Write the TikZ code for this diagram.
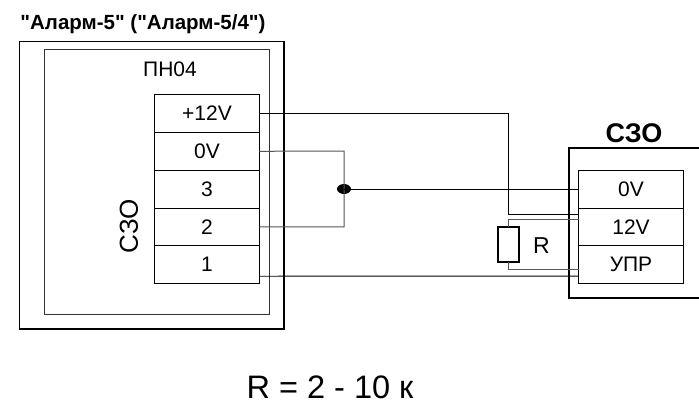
\documentclass[tikz,border=0pt]{standalone}
\usepackage{fontspec}
\setmainfont{Liberation Sans}[Ligatures=TeXOff]
\usetikzlibrary{positioning,shapes.geometric}
\definecolor{wiregray}{HTML}{555555}
\tikzset{
    % Terminal cell
    termcell/.style={
        rectangle,
        draw=black,
        line width=0.8pt,
        fill=white,
        font=\fontsize{21}{21}\selectfont,
        minimum width=104.5pt,
        minimum height=37.8pt,
        outer sep=0pt,
        inner sep=0pt
    },
    % Enclosure frames
    outerframe/.style={
        rectangle,
        draw=black,
        line width=1.6pt,
        outer sep=0pt,
        inner sep=0pt
    },
    innerframe/.style={
        rectangle,
        draw=black!80,
        line width=0.8pt,
        outer sep=0pt,
        inner sep=0pt
    },
    % Wires
    wire/.style={line width=0.9pt, black},
    graywire/.style={line width=1pt, wiregray},
    % Resistor body
    resbody/.style={
        rectangle,
        draw=black,
        line width=1.2pt,
        fill=white,
        minimum width=21pt,
        minimum height=35pt,
        outer sep=0pt,
        inner sep=0pt
    },
    % Junction dot
    junction/.style={
        ellipse,
        fill=black,
        minimum width=14pt,
        minimum height=10pt,
        inner sep=0pt
    }
}
\begin{document}
\begin{tikzpicture}[x=1pt,y=-1pt]
    \useasboundingbox (0,0) rectangle (699,405);
    % left unit
    \node[outerframe, minimum width=264.5pt, minimum height=287.5pt] (alarm) at (151.8,185.3) {};
    \node[innerframe, minimum width=225pt, minimum height=265pt] (pnbox) at (156.5,181.5) {};
    \node[font=\bfseries\fontsize{20.5}{21}\selectfont] (alarmtitle) at (143,24) {"Аларм-5" ("Аларм-5/4")};
    \node[font=\fontsize{21}{21}\selectfont] (pntitle) at (170,69) {ПН04};
    \node[termcell] (pn12v) at (207,113.5) {+12V};
    \node[termcell, below=0pt of pn12v] (pn0v) {0V};
    \node[termcell, below=0pt of pn0v] (pn3) {3};
    \node[termcell, below=0pt of pn3] (pn2) {2};
    \node[termcell, below=0pt of pn2] (pn1) {1};
    \node[font=\fontsize{26}{26}\selectfont, rotate=90] (pnszo) at (129,226) {СЗО};
    % right unit
    \node[font=\bfseries\fontsize{27}{27}\selectfont] (szotitle) at (634,133) {СЗО};
    \node[termcell] (szo0v) at (631,189) {0V};
    \node[termcell, below=0pt of szo0v] (szo12v) {12V};
    \node[termcell, below=0pt of szo12v] (szoupr) {УПР};
    \coordinate (frametl) at (569,148);
    \coordinate (frametr) at (699,148);
    \coordinate (framebl) at (569,298);
    \coordinate (framebr) at (699,298);
    \draw[line width=1.6pt] (frametr) -- (frametl) -- (framebl) -- (framebr);
    % wiring
    \coordinate (pn1out) at ([yshift=-11.5pt]pn1.east);
    \coordinate (up12a) at ([yshift=12pt]szo12v.west);
    \coordinate (up12b) at ([yshift=7pt]szo12v.west);
    \coordinate (upra) at ([yshift=-4.5pt]szoupr.west);
    \coordinate (uprb) at ([yshift=-11.5pt]szoupr.west);
    \coordinate (wirebend) at (508,113.5);
    \coordinate (busr) at (344,151);
    \node[junction] (busdot) at (344,189) {};
    \node[resbody] (res) at (508.5,244.5) {};
    \node[font=\fontsize{23}{23}\selectfont] (reslabel) at (541.5,246) {R};
    \draw[wire] (pn12v.east) -- (wirebend) -- (wirebend |- up12a) -- (up12a);
    \draw[graywire] (pn0v.east) -- (busr) -- (busr |- pn2.east) -- (pn2.east);
    \draw[wire] (busdot.center) -- (szo0v.west);
    \draw[wire] (pn1out) -- (uprb);
    \draw[graywire] (up12b) -- (res.north |- up12b) -- (res.north);
    \draw[graywire] (res.south) -- (res.south |- upra) -- (upra);
    % value
    \node[font=\fontsize{32.5}{33}\selectfont] (rvalue) at (330,387) {R = 2 - 10 к};
\end{tikzpicture}
\end{document}
